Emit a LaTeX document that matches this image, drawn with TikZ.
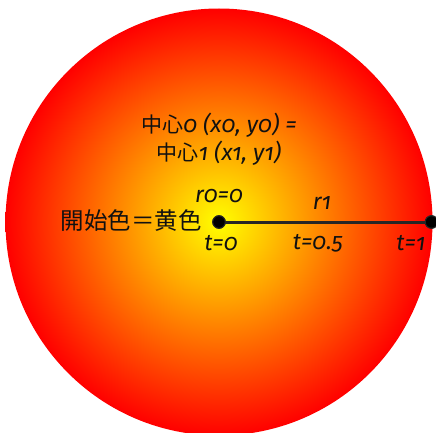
\documentclass[tikz,border=0pt]{standalone}
\usepackage{fontspec}
\usepackage{tikz}
\usepackage{xcolor}
\usetikzlibrary{positioning}
\setmainfont{Fira Sans}[Numbers=OldStyle]
\newfontfamily\jpfont{Noto Sans CJK JP}
\definecolor{inkcol}{HTML}{111111}
\definecolor{linecol}{HTML}{262626}
\pgfdeclareradialshading{sunglow}{\pgfpoint{0bp}{0bp}}{color(0bp)=(yellow); color(25bp)=(red); color(50bp)=(red)}

\begin{document}
\begin{tikzpicture}[x=1pt,y=1pt,
    lbl/.style={inkcol,font=\itshape\fontsize{23}{26}\selectfont,inner sep=0pt},
    dot/.style={circle,fill=black,draw=linecol,line width=1pt,minimum size=12.5pt,inner sep=0pt}]
  \useasboundingbox (0,0) rectangle (436,432);
  \clip (0,0) rectangle (436,432);
  \shade[shading=sunglow] (219,210) circle (213.5);
  % radius line
  \node[dot] (c0) at (219,210) {};
  \node[dot] (c1) at (431.5,210) {};
  \draw[linecol,line width=3pt] (c0.center) -- (c1.center);
  \node[dot] at (c0) {};
  \node[dot] at (c1) {};
  % labels
  \node[lbl,align=center,font=\itshape\fontsize{23}{28}\selectfont] (centres) at (219,293)
    {{\upshape\jpfont\fontsize{21}{28}\selectfont 中心}0 (x0, y0) =\\{\upshape\jpfont\fontsize{21}{28}\selectfont 中心}1 (x1, y1)};
  \node[lbl,anchor=east,font=\jpfont\fontsize{23.5}{26}\selectfont] (startcol) at (202,211) {開始色＝黄色};
  \node[lbl] (r0) at (219,236) {r0=0};
  \node[lbl] (t0) at (221,189) {t=0};
  \node[lbl] (r1) at (322,229) {r1};
  \node[lbl] (tmid) at (318,189) {t=0.5};
  \node[lbl] (t1) at (411,189) {t=1};
\end{tikzpicture}
\end{document}
